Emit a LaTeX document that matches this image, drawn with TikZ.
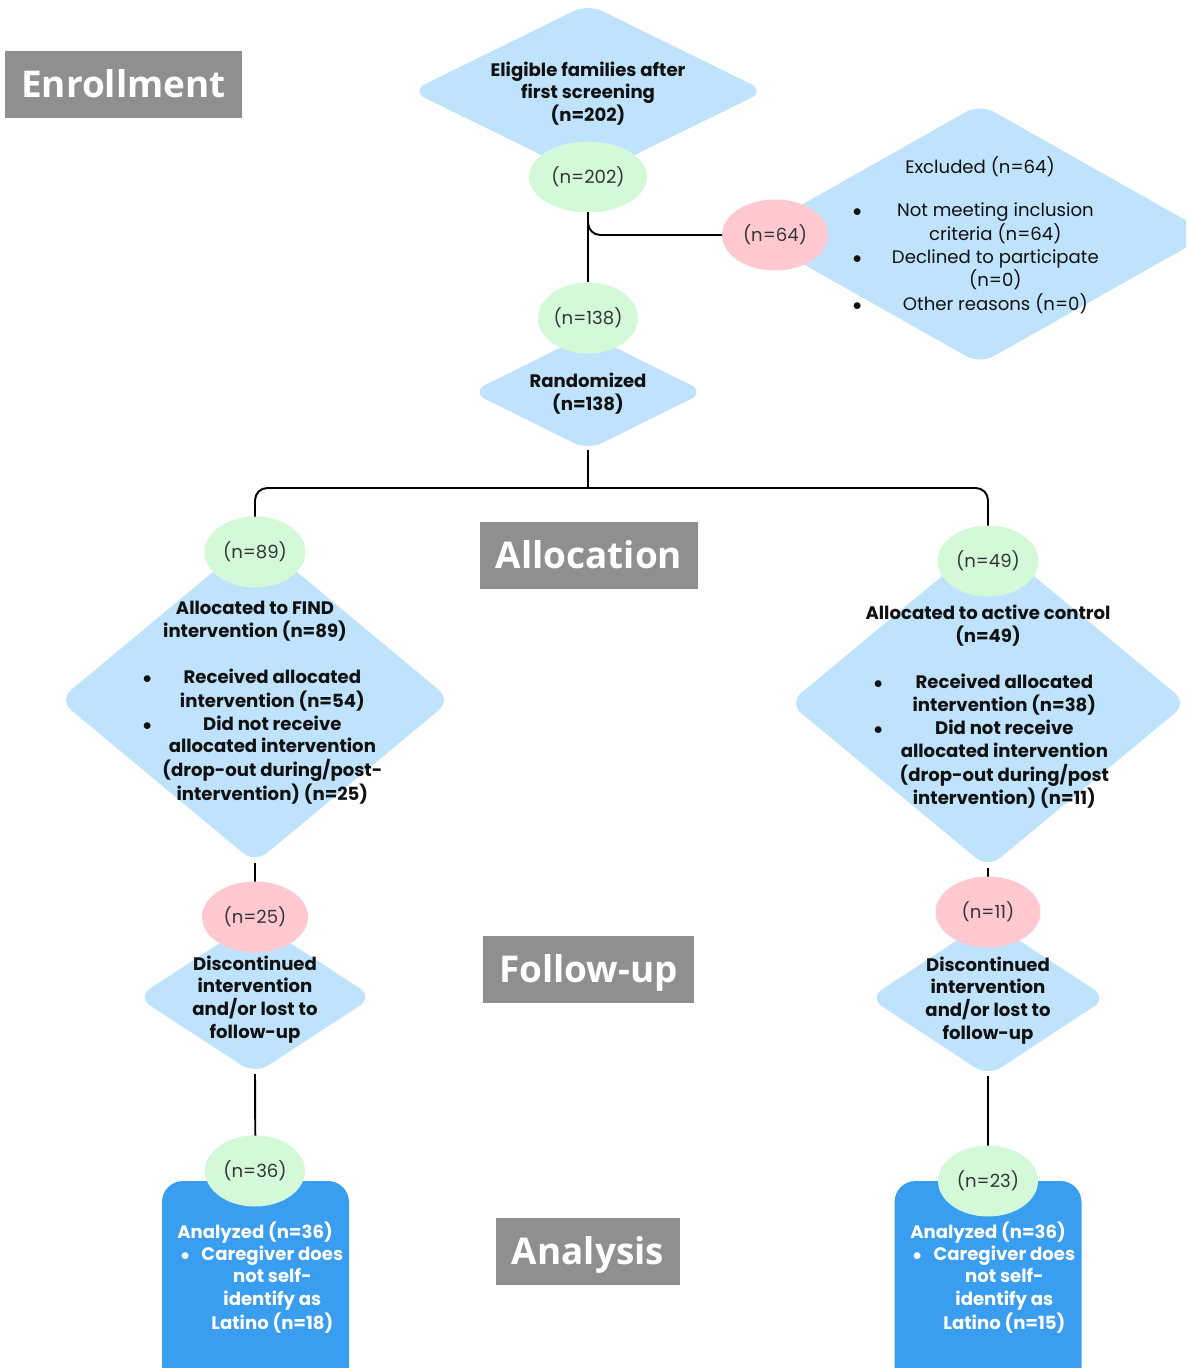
\documentclass[tikz,border=0pt]{standalone}
\usepackage{fontspec}
\setmainfont{Poppins}
\newfontfamily\stagefont{Open Sans}
\usepackage{array}
\usepackage{xcolor}
\definecolor{diablue}{HTML}{BFE3FC}
\definecolor{keptgreen}{HTML}{D3F9D8}
\definecolor{lostpink}{HTML}{FFC9CF}
\definecolor{analblue}{HTML}{3A9EF0}
\definecolor{stagegray}{HTML}{8F8F8F}
\definecolor{ink}{HTML}{111111}
\usetikzlibrary{shapes.geometric}
\newlength{\px}
\setlength{\px}{0.02cm}
\newcommand{\bodysize}{\fontsize{10.3}{13}\selectfont}
\newcommand{\blt}{\makebox[8\px]{$\bullet$}}

\begin{document}
\begin{tikzpicture}[
  x=\px, y=-\px,
  font=\bodysize,
  dia/.style 2 args={diamond, fill=diablue, rounded corners=9pt, inner sep=0pt,
             outer sep=0pt, minimum width=#1*\px, minimum height=#2*\px},
  count/.style={ellipse, inner sep=0pt, outer sep=0pt, text=ink!85,
             minimum width=#1*\px, minimum height=71*\px},
  count/.default=101,
  kept/.style={count=#1, fill=keptgreen},
  kept/.default=101,
  lost/.style={count=#1, fill=lostpink},
  lost/.default=106,
  analbox/.style={fill=analblue, rounded corners=12pt, inner sep=0pt,
             minimum width=187*\px, minimum height=219*\px},
  stage/.style={fill=stagegray, text=white, inner xsep=16*\px, inner ysep=0pt,
             text height=15pt, text depth=0pt, minimum height=67*\px,
             font=\stagefont\bfseries\fontsize{21}{21}\selectfont},
  boldtxt/.style={align=center, text=ink, font=\bodysize\bfseries, yshift=-2.5\px},
  plaintxt/.style={align=center, text=ink, yshift=-2.5\px},
  whitetxt/.style={align=center, text=white, font=\bodysize\bfseries, yshift=-2.5\px},
  listbox/.style={inner sep=0pt, anchor=west},
  link/.style={draw=black, line width=1.1pt}
]
  \clip (0,0) rectangle (1186,1368);

  % shapes
  \node[dia={354}{174}] (elig) at (588,91) {};
  \node[dia={460}{260}] (excl) at (980,234) {};
  \node[dia={234}{116}] (rand) at (588,392) {};
  \node[dia={392}{326}] (find) at (255,700) {};
  \node[dia={398}{330}] (ctrl) at (988,703) {};
  \node[dia={236}{154}] (discL) at (255,997) {};
  \node[dia={238}{156}] (discR) at (988,998) {};
  \node[analbox] (anaL) at (255.5,1290.5) {};
  \node[analbox] (anaR) at (988,1290.5) {};

  % connectors
  \coordinate (split) at (588,488);
  \draw[link] (rand.south) -- (split);
  \draw[link, rounded corners=7pt] (split) -| (find.north |- 0,540);
  \draw[link, rounded corners=7pt] (split) -| (ctrl.north |- 0,540);
  \draw[link] (find.south) -- (discL.north);
  \draw[link] (ctrl.south) -- (discR.north);
  \draw[link] (discL.south) -- (anaL.north);
  \draw[link] (discR.south) -- (anaR.north);

  % counts
  \node[kept=118] (n202) at (588,177) {(n=202)};
  \node[lost]     (n64)  at (775,235) {(n=64)};
  \node[kept=100] (n138) at (588,318) {(n=138)};
  \node[kept]     (n89)  at (255,552) {(n=89)};
  \node[kept]     (n49)  at (988,561) {(n=49)};
  \node[lost]     (n25)  at (255,917) {(n=25)};
  \node[lost=105] (n11)  at (988,912) {(n=11)};
  \node[kept=100] (n36)  at (255,1171) {(n=36)};
  \node[kept=100] (n23)  at (988,1181) {(n=23)};

  \draw[link] (n202.south) -- (n138.north);
  % exclusion branch
  \draw[link, rounded corners=7pt] (n202.south) |- (n64.west);

  % texts
  \node[boldtxt] (eligtxt) at (588,91) {Eligible families after\\first screening\\(n=202)};
  \node[plaintxt] (excltitle) at (980,164) {Excluded (n=64)};
  \node[plaintxt, listbox] (excllist) at (853,256.5) {%
    \begin{tabular}{@{}c@{\hspace{28\px}}>{\centering\arraybackslash}p{212\px}@{}}
      \blt & Not meeting inclusion\\
           & criteria (n=64)\\
      \blt & Declined to participate\\
           & (n=0)\\
      \blt & Other reasons (n=0)
    \end{tabular}};
  \node[boldtxt] (randtxt) at (588,391.5) {Randomized\\(n=138)};

  \node[boldtxt] (findtitle) at (255,619) {Allocated to FIND\\intervention (n=89)};
  \node[boldtxt, listbox] (findlist) at (143,735) {%
    \begin{tabular}{@{}c@{\hspace{5\px}}>{\centering\arraybackslash}p{232\px}@{}}
      \blt & Received allocated\\
           & intervention (n=54)\\
      \blt & Did not receive\\
           & allocated intervention\\
           & (drop-out during/post-\\
           & intervention) (n=25)
    \end{tabular}};

  \node[boldtxt] (ctrltitle) at (988,623.5) {Allocated to active control\\(n=49)};
  \node[boldtxt, listbox] (ctrllist) at (874,739.5) {%
    \begin{tabular}{@{}c@{\hspace{6\px}}>{\centering\arraybackslash}p{232\px}@{}}
      \blt & Received allocated\\
           & intervention (n=38)\\
      \blt & Did not receive\\
           & allocated intervention\\
           & (drop-out during/post\\
           & intervention) (n=11)
    \end{tabular}};

  \node[boldtxt] (discLtxt) at (255,997) {Discontinued\\intervention\\and/or lost to\\follow-up};
  \node[boldtxt] (discRtxt) at (988,998) {Discontinued\\intervention\\and/or lost to\\follow-up};

  \node[whitetxt] (anaLtitle) at (255,1230) {Analyzed (n=36)};
  \node[whitetxt, listbox] (anaLlist) at (181,1287.5) {%
    \begin{tabular}{@{}c@{\hspace{8\px}}>{\centering\arraybackslash}p{150\px}@{}}
      \blt & Caregiver does\\
           & not self-\\
           & identify as\\
           & Latino (n=18)
    \end{tabular}};
  \node[whitetxt] (anaRtitle) at (988,1230) {Analyzed (n=36)};
  \node[whitetxt, listbox] (anaRlist) at (913,1287.5) {%
    \begin{tabular}{@{}c@{\hspace{8\px}}>{\centering\arraybackslash}p{150\px}@{}}
      \blt & Caregiver does\\
           & not self-\\
           & identify as\\
           & Latino (n=15)
    \end{tabular}};

  % stage labels
  \node[stage] (enrol) at (123.5,84.5) {Enrollment};
  \node[stage] (alloc) at (589,555.5) {Allocation};
  \node[stage] (follow) at (588.5,969) {Follow-up};
  \node[stage] (analysis) at (588,1251) {Analysis};
\end{tikzpicture}
\end{document}
